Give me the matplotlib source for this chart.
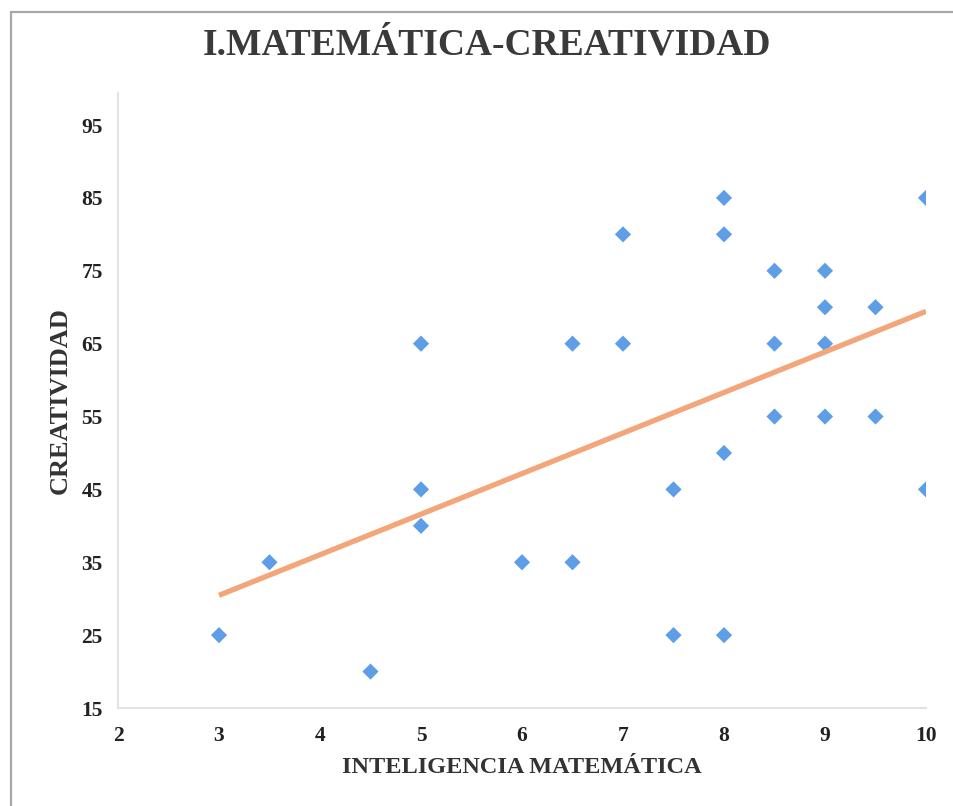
import numpy as np
import matplotlib
matplotlib.use("Agg")
import matplotlib.pyplot as plt
from matplotlib.patches import Rectangle

# Data
inteligencia = [3, 3.5, 4.5, 5, 5, 5, 6, 6.5, 6.5, 7, 7, 7.5, 7.5,
                8, 8, 8, 8, 8.5, 8.5, 8.5, 9, 9, 9, 9, 9.5, 9.5, 10, 10]
creatividad = [25, 35, 20, 65, 45, 40, 35, 65, 35, 80, 65, 45, 25,
               85, 80, 50, 25, 75, 65, 55, 75, 70, 65, 55, 70, 55, 85, 45]
x_ticks = [2, 3, 4, 5, 6, 7, 8, 9, 10]
y_ticks = [15, 25, 35, 45, 55, 65, 75, 85, 95]

title = "I.MATEMÁTICA-CREATIVIDAD"
xlabel = "INTELIGENCIA MATEMÁTICA"
ylabel = "CREATIVIDAD"

serif = ["Liberation Serif", "DejaVu Serif"]

W, H = 954, 806
fig = plt.figure(figsize=(W / 100, H / 100), dpi=100)
fig.patch.set_facecolor("white")

# outer chart border (cropped on right/bottom)
fig.patches.append(Rectangle((11 / W, -0.05), 1.1, 1 - 12 / H + 0.05,
                             transform=fig.transFigure, fill=False,
                             edgecolor="#A8A8A8", linewidth=1.6))

ax = fig.add_axes([118 / W, 1 - 708 / H, (926 - 118) / W, (708 - 93) / H])

x = np.array(inteligencia)
y = np.array(creatividad)
ax.scatter(x, y, marker="D", s=68, color="#5E9EE6", edgecolors="none", zorder=2)

m, b = np.polyfit(x, y, 1)
xs = np.array([x.min(), x.max()])
ax.plot(xs, m * xs + b, color="#F2A679", linewidth=3.8, solid_capstyle="butt", zorder=3)

ax.set_xlim(2, 10)
ax.set_ylim(15, 99.4)
ax.set_xticks(x_ticks)
ax.set_yticks(y_ticks)
ax.tick_params(length=0, labelsize=15.5, colors="#222222", pad=13)
ax.tick_params(axis="y", pad=11)
for lab in ax.get_xticklabels() + ax.get_yticklabels():
    lab.set_family(serif)
    lab.set_fontweight("bold")

for s in ["top", "right"]:
    ax.spines[s].set_visible(False)
for s in ["left", "bottom"]:
    ax.spines[s].set_color("#E3E3E3")
    ax.spines[s].set_linewidth(1.5)

ax.set_xlabel(xlabel, family=serif, fontweight="bold", fontsize=17.5,
              color="#333333", labelpad=8)
ax.set_ylabel(ylabel, family=serif, fontweight="bold", fontsize=19,
              color="#333333", labelpad=7)

fig.text(487 / W, 1 - 45 / H, title, family=serif, fontweight="bold",
         fontsize=27, color="#3A3A3A", ha="center", va="center")

fig.savefig("out.png", dpi=100, facecolor="white")
